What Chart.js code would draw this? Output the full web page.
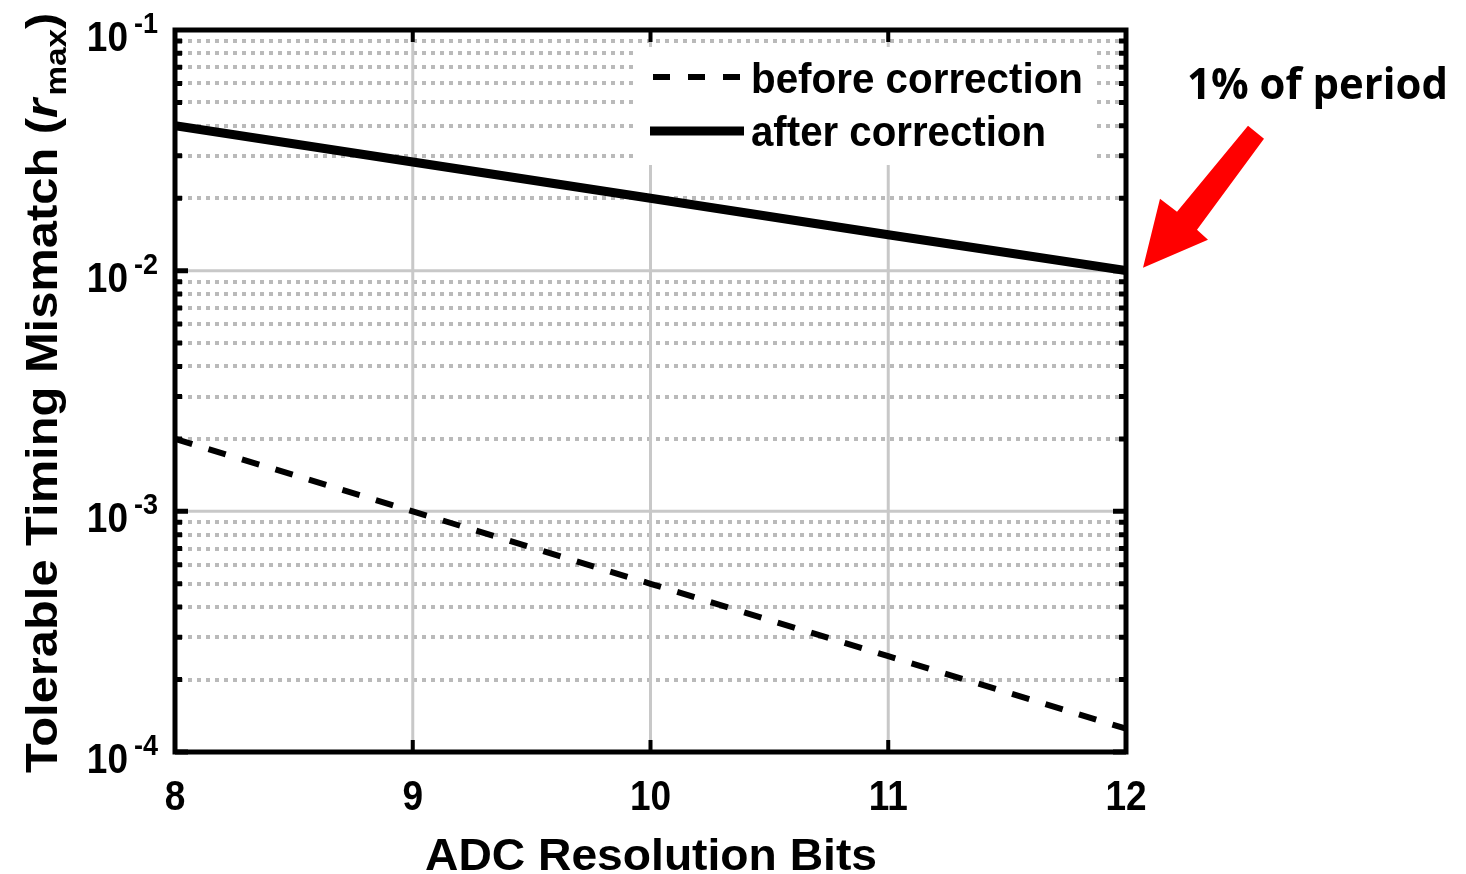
<!DOCTYPE html>
<html>
<head>
<meta charset="utf-8">
<title>Tolerable timing mismatch vs ADC resolution</title>
<script src="https://cdn.jsdelivr.net/npm/chart.js@4/dist/chart.umd.min.js"></script>
<style>
  html, body { margin: 0; padding: 0; background: #fff; }
  canvas { display: block; }
</style>
</head>
<body>
<canvas id="mismatchChart" width="1466" height="874"></canvas>
<script>
// ---- data ----
const bits = [8, 9, 10, 11, 12];
const beforeCorrection = [0.002, 0.001, 0.0005, 0.00025, 0.000125];
const afterCorrection = [0.04, 0.0283, 0.02, 0.0141, 0.01];
const xTicks = [8, 9, 10, 11, 12];
const yDecades = [-1, -2, -3, -4];
const seriesNames = ["before correction", "after correction"];

const FONT = "'Liberation Sans', Arial, sans-serif";

// draw text squeezed horizontally (the source fonts are narrow)
function squeezed(ctx, text, x, y, font, align, sx) {
  ctx.save();
  ctx.translate(x, y);
  ctx.scale(sx, 1);
  ctx.font = font;
  ctx.textAlign = align;
  ctx.textBaseline = "alphabetic";
  ctx.fillText(text, 0, 0);
  ctx.restore();
}

// draw text stretched to a given width, left aligned
function fitText(ctx, text, x, y, font, width) {
  ctx.save();
  ctx.font = font;
  const w = ctx.measureText(text).width;
  ctx.translate(x, y);
  ctx.scale(width / w, 1);
  ctx.textAlign = "left";
  ctx.textBaseline = "alphabetic";
  ctx.fillText(text, 0, 0);
  ctx.restore();
}

const gridAndFrame = {
  id: "gridAndFrame",
  beforeDatasetsDraw(chart) {
    const { ctx, chartArea: a, scales: { x, y } } = chart;
    ctx.save();
    // minor grid (dotted)
    ctx.strokeStyle = "#bababa";
    ctx.lineWidth = 4;
    ctx.setLineDash([4, 5]);
    for (let k = -4; k < -1; k++) {
      for (let m = 2; m <= 9; m++) {
        const py = Math.round(y.getPixelForValue(m * Math.pow(10, k)));
        ctx.beginPath();
        ctx.moveTo(a.left + 4, py);
        ctx.lineTo(a.right, py);
        ctx.stroke();
      }
    }
    // major grid
    ctx.setLineDash([]);
    ctx.strokeStyle = "#c8c8c8";
    ctx.lineWidth = 3;
    yDecades.forEach(d => {
      const py = y.getPixelForValue(Math.pow(10, d));
      ctx.beginPath();
      ctx.moveTo(a.left, py);
      ctx.lineTo(a.right, py);
      ctx.stroke();
    });
    xTicks.forEach(t => {
      const px = x.getPixelForValue(t);
      ctx.beginPath();
      ctx.moveTo(px, a.top);
      ctx.lineTo(px, a.bottom);
      ctx.stroke();
    });
    // legend background
    ctx.fillStyle = "#fff";
    ctx.fillRect(638, 47, 457, 118);
    ctx.restore();
  },
  afterDatasetsDraw(chart) {
    const { ctx, chartArea: a, scales: { x, y } } = chart;
    ctx.save();
    ctx.strokeStyle = "#000";
    ctx.fillStyle = "#000";

    // tick marks, pointing inward on all four sides
    ctx.lineWidth = 5;
    for (let k = -4; k < -1; k++) {
      for (let m = 1; m <= 9; m++) {
        const py = y.getPixelForValue(m * Math.pow(10, k));
        const len = m === 1 ? 13 : 7;
        ctx.beginPath();
        ctx.moveTo(a.left, py); ctx.lineTo(a.left + len, py);
        ctx.moveTo(a.right, py); ctx.lineTo(a.right - len, py);
        ctx.stroke();
      }
    }
    ctx.lineWidth = 4;
    xTicks.forEach(t => {
      const px = x.getPixelForValue(t);
      ctx.beginPath();
      ctx.moveTo(px, a.bottom); ctx.lineTo(px, a.bottom - 12);
      ctx.moveTo(px, a.top); ctx.lineTo(px, a.top + 12);
      ctx.stroke();
    });

    // axes box
    ctx.lineWidth = 5;
    ctx.strokeRect(a.left, a.top, a.right - a.left, a.bottom - a.top);

    // y tick labels 10^k
    yDecades.forEach(d => {
      const py = y.getPixelForValue(Math.pow(10, d));
      const exp = String(d);
      ctx.font = "bold 30px " + FONT;
      const ew = ctx.measureText(exp).width * 0.9;
      squeezed(ctx, exp, 158, py + 3, "bold 30px " + FONT, "right", 0.9);
      squeezed(ctx, "10", 158 - ew - 6, py + 21, "bold 43px " + FONT, "right", 0.86);
    });

    // x tick labels
    xTicks.forEach(t => {
      squeezed(ctx, String(t), x.getPixelForValue(t), a.bottom + 58, "bold 43px " + FONT, "center", 0.86);
    });

    // x axis title
    fitText(ctx, "ADC Resolution Bits", 425, 870, "bold 44px " + FONT, 452);

    // y axis title with italic r and subscript "max"
    const parts = [
      { t: "Tolerable Timing Mismatch (", f: "bold 44px " + FONT, dy: 0 },
      { t: "r", f: "italic bold 44px " + FONT, dy: 0 },
      { t: "max", f: "bold 30px " + FONT, dy: 9 },
      { t: ")", f: "bold 44px " + FONT, dy: 0 },
    ];
    let total = 0;
    parts.forEach(p => { ctx.font = p.f; p.w = ctx.measureText(p.t).width; total += p.w; });
    const sx = 757 / total;
    ctx.save();
    ctx.translate(57, 773);
    ctx.rotate(-Math.PI / 2);
    ctx.scale(sx, 1);
    ctx.textAlign = "left";
    ctx.textBaseline = "alphabetic";
    let cx = 0;
    parts.forEach(p => {
      ctx.font = p.f;
      ctx.fillText(p.t, cx, p.dy);
      cx += p.w + (p.t === "r" ? 3 : 0);
    });
    ctx.restore();

    // legend
    ctx.lineCap = "butt";
    ctx.lineWidth = 6;
    ctx.setLineDash([17, 18]);
    ctx.beginPath(); ctx.moveTo(653, 77); ctx.lineTo(742, 77); ctx.stroke();
    ctx.setLineDash([]);
    ctx.lineWidth = 9;
    ctx.beginPath(); ctx.moveTo(650, 131); ctx.lineTo(744, 131); ctx.stroke();
    fitText(ctx, seriesNames[0], 751, 93, "bold 43px " + FONT, 332);
    fitText(ctx, seriesNames[1], 751, 146, "bold 43px " + FONT, 295);

    // red arrow pointing at the last "after correction" point
    const px = x.getPixelForValue(bits[bits.length - 1]);
    const py = y.getPixelForValue(afterCorrection[afterCorrection.length - 1]);
    const arrow = [[17, -3], [82, -31], [71, -41], [138, -132], [122, -145], [51, -59], [34, -72]];
    ctx.fillStyle = "#ff0000";
    ctx.beginPath();
    arrow.forEach(([dx, dy], i) => i ? ctx.lineTo(px + dx, py + dy) : ctx.moveTo(px + dx, py + dy));
    ctx.closePath();
    ctx.fill();

    ctx.fillStyle = "#000";
    fitText(ctx, "1% of period", 1187, 99, "bold 43px 'Open Sans', 'Noto Sans', sans-serif", 261);
    ctx.restore();
  }
};

new Chart(document.getElementById("mismatchChart"), {
  type: "line",
  data: {
    datasets: [
      {
        label: seriesNames[0],
        data: bits.map((b, i) => ({ x: b, y: beforeCorrection[i] })),
        borderColor: "#000",
        borderWidth: 6,
        borderDash: [18, 17],
        pointRadius: 0,
        tension: 0,
      },
      {
        label: seriesNames[1],
        data: bits.map((b, i) => ({ x: b, y: afterCorrection[i] })),
        borderColor: "#000",
        borderWidth: 9,
        pointRadius: 0,
        tension: 0,
      },
    ],
  },
  options: {
    responsive: false,
    animation: false,
    devicePixelRatio: 1,
    layout: { padding: { left: 0, top: 30, right: 340, bottom: 0 } },
    plugins: { legend: { display: false }, tooltip: { enabled: false } },
    scales: {
      x: {
        type: "linear", min: 8, max: 12,
        grid: { display: false }, border: { display: false },
        ticks: { display: false },
        afterFit: s => { s.height = 122; },
      },
      y: {
        type: "logarithmic", min: 1e-4, max: 1e-1,
        grid: { display: false }, border: { display: false },
        ticks: { display: false },
        afterFit: s => { s.width = 175; },
      },
    },
  },
  plugins: [gridAndFrame],
});
</script>
</body>
</html>
